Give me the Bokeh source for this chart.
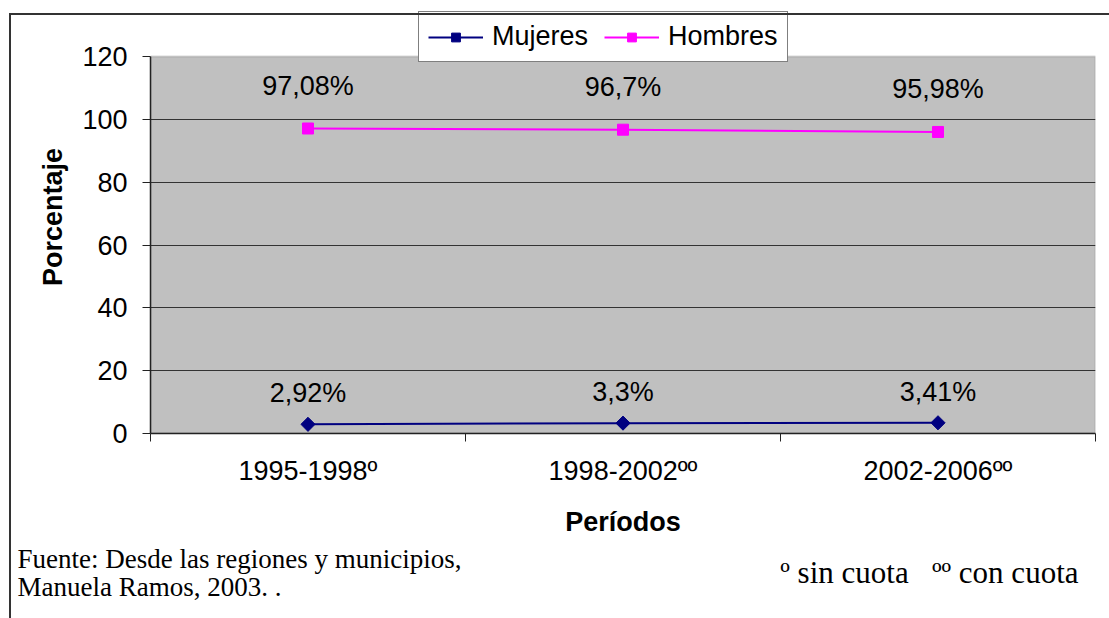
import numpy as np
from bokeh.plotting import figure
from bokeh.layouts import column
from bokeh.models import (Range1d, FixedTicker, Legend, LegendItem, Label,
                          ColumnDataSource, InlineStyleSheet, BoxAnnotation)
from bokeh.core.properties import value
from bokeh.embed import file_html
from bokeh.resources import INLINE

# ---- data ----
periods = ["1995-1998º", "1998-2002ºº", "2002-2006ºº"]
mujeres = [2.92, 3.3, 3.41]
hombres = [97.08, 96.7, 95.98]
y_ticks = [0, 20, 40, 60, 80, 100, 120]
series_names = ["Mujeres", "Hombres"]
footnote_lines = ["Fuente: Desde las regiones y municipios,", "Manuela Ramos, 2003. ."]
quota_note = "º sin cuota \u00a0\u00a0ºº con cuota"

FONT = "Liberation Sans"
SERIF = "Liberation Serif"
Y_MAX = 120

def fmt(v):
    return (("%g" % v).replace(".", ",")) + "%"

xs = np.arange(len(periods)) + 0.5

# frame extends above the grey plot area so the legend can overlap it
FRAME_H = 433
PLOT_H = 377
p = figure(width=1109, height=540, output_backend="svg", toolbar_location=None,
           x_range=Range1d(0, len(periods)),
           y_range=Range1d(0, Y_MAX * FRAME_H / PLOT_H),
           min_border_left=150, min_border_right=14, min_border_top=0,
           min_border_bottom=107)
p.frame_width = 945
p.frame_height = FRAME_H
p.frame_align = False
p.background_fill_color = "white"
p.border_fill_color = "white"
p.outline_line_color = None

p.stylesheets = [InlineStyleSheet(css=(
    ":host { position: relative; }"
    ":host::after { content: ''; position: absolute; left: 9px; top: 13px;"
    " right: -20px; bottom: 0px; border-top: 2px solid #333;"
    " border-left: 2px solid #333; pointer-events: none; }"))]

# grey plot area
p.add_layout(BoxAnnotation(left=0, right=len(periods), bottom=0, top=Y_MAX,
                           fill_color="#C0C0C0", fill_alpha=1,
                           line_color="#808080", line_width=2, level="image"))

# y axis
yax = p.yaxis[0]
yax.ticker = FixedTicker(ticks=y_ticks)
yax.bounds = (0, Y_MAX)
yax.major_tick_out = 8
yax.major_tick_in = 0
yax.minor_tick_out = 0
yax.minor_tick_in = 0
yax.axis_line_color = "#222222"
yax.axis_line_width = 1.5
yax.major_tick_line_color = "#222222"
yax.major_label_text_font = FONT
yax.major_label_text_font_size = "27px"
yax.major_label_text_color = "black"
yax.major_label_standoff = 15
yax.axis_label = "Porcentaje"
yax.axis_label_text_font = FONT
yax.axis_label_text_font_style = "bold"
yax.axis_label_text_font_size = "27px"
yax.axis_label_text_color = "black"
yax.axis_label_standoff = 11

# x axis
xax = p.xaxis[0]
xax.ticker = FixedTicker(ticks=list(xs), minor_ticks=list(range(len(periods) + 1)))
xax.major_label_overrides = {float(x): lab for x, lab in zip(xs, periods)}
xax.major_tick_out = 0
xax.major_tick_in = 0
xax.minor_tick_out = 8
xax.minor_tick_in = 0
xax.minor_tick_line_color = "#222222"
xax.axis_line_color = "#222222"
xax.axis_line_width = 1.5
xax.major_label_text_font = FONT
xax.major_label_text_font_size = "27px"
xax.major_label_text_color = "black"
xax.major_label_standoff = 14
xax.axis_label = "Períodos"
xax.axis_label_text_font = FONT
xax.axis_label_text_font_style = "bold"
xax.axis_label_text_font_size = "27px"
xax.axis_label_text_color = "black"
xax.axis_label_standoff = 18

p.xgrid.visible = False
p.ygrid.ticker = FixedTicker(ticks=[t for t in y_ticks if 0 < t < Y_MAX])
p.ygrid.grid_line_color = "#333333"
p.ygrid.grid_line_width = 1

# series
r_m_line = p.line(xs, mujeres, line_color="#000080", line_width=2)
r_m_pts = p.scatter(xs, mujeres, marker="square", angle=np.pi / 4, size=10,
                    fill_color="#000080", line_color="#000080")
r_h_line = p.line(xs, hombres, line_color="#FF00FF", line_width=2)
r_h_pts = p.scatter(xs, hombres, marker="square", size=11,
                    fill_color="#FF00FF", line_color="#FF00FF")

# data labels
src_m = ColumnDataSource(dict(x=xs, y=mujeres, t=[fmt(v) for v in mujeres]))
src_h = ColumnDataSource(dict(x=xs, y=hombres, t=[fmt(v) for v in hombres]))
for src, off in ((src_m, -31), (src_h, -43)):
    p.text(x="x", y="y", text="t", source=src, y_offset=off,
           text_align="center", text_baseline="middle",
           text_font=value(FONT), text_font_size="27px", text_color="black")

# legend
legend = Legend(items=[LegendItem(label=series_names[0], renderers=[r_m_line, r_m_pts]),
                       LegendItem(label=series_names[1], renderers=[r_h_line, r_h_pts])],
                orientation="horizontal", location=(268, 371))
legend.label_text_font = FONT
legend.label_text_font_size = "27px"
legend.label_text_color = "black"
legend.glyph_width = 55
legend.glyph_height = 22
legend.label_standoff = 9
legend.spacing = 16
legend.padding = 9
legend.margin = 0
legend.border_line_color = "black"
legend.border_line_width = 1
legend.background_fill_color = "white"
legend.background_fill_alpha = 1
p.add_layout(legend, "center")

# footnote strip
q = figure(width=1109, height=78, output_backend="svg", toolbar_location=None,
           x_axis_type=None, y_axis_type=None, x_range=Range1d(0, 1109),
           y_range=Range1d(0, 78), min_border=0)
q.frame_align = False
q.outline_line_color = None
q.grid.visible = False
q.border_fill_color = "white"
q.background_fill_color = "white"
q.stylesheets = [InlineStyleSheet(css=(
    ":host { position: relative; }"
    ":host::after { content: ''; position: absolute; left: 9px; top: 0px;"
    " bottom: -20px; width: 0px; border-left: 2px solid #333; pointer-events: none; }"))]
for i, line in enumerate(footnote_lines):
    q.add_layout(Label(x=17, y=60 - 28 * i, x_units="screen", y_units="screen", text=line,
                       text_font=SERIF, text_font_size="27px", text_color="black",
                       text_baseline="alphabetic", text_align="left"))
q.add_layout(Label(x=1078, y=46, x_units="screen", y_units="screen", text=quota_note,
                   text_font=SERIF, text_font_size="31px", text_color="black",
                   text_baseline="alphabetic", text_align="right"))

layout = column(p, q, spacing=0)
open("out.html", "w").write(file_html(layout, INLINE))
